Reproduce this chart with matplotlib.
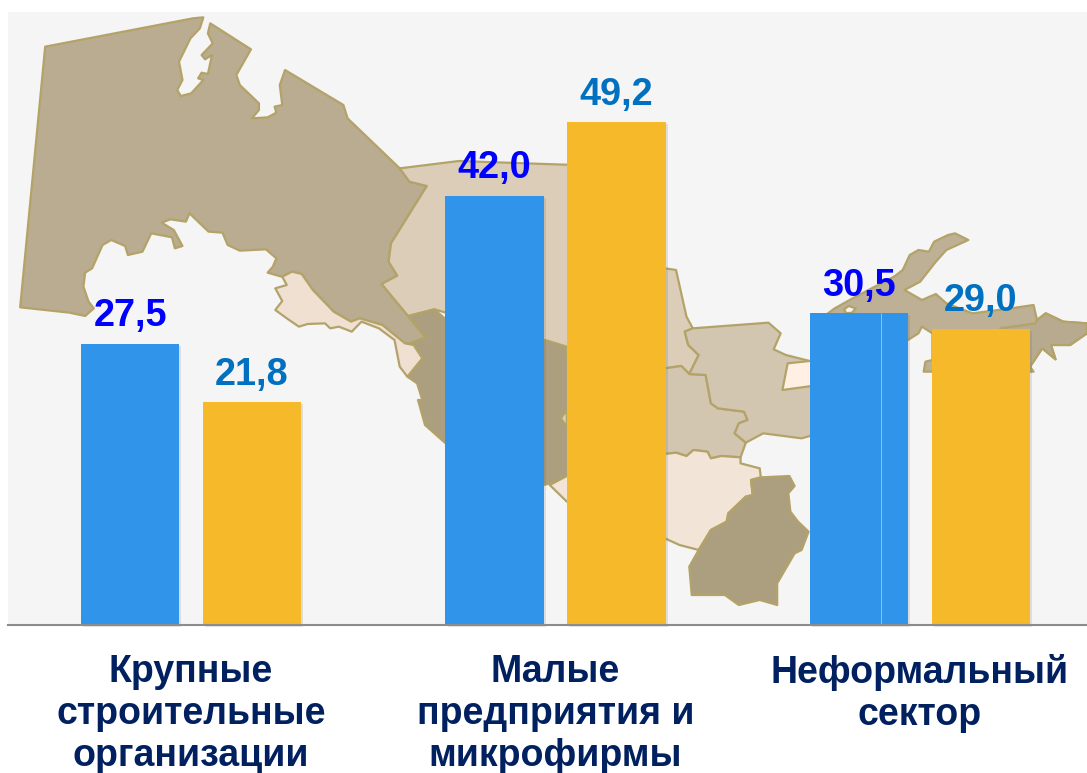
import numpy as np
import matplotlib
matplotlib.use('Agg')
import matplotlib.pyplot as plt
from matplotlib.patches import Polygon
import matplotlib.patheffects as pe

categories = ['Крупные\nстроительные\nорганизации', 'Малые\nпредприятия и\nмикрофирмы', 'Неформальный\nсектор']
series_blue = [27.5, 42.0, 30.5]
series_orange = [21.8, 49.2, 29.0]
labels_blue = ['27,5', '42,0', '30,5']
labels_orange = ['21,8', '49,2', '29,0']

plt.rcParams['font.family'] = ['Liberation Sans', 'DejaVu Sans']


# map outlines were traced on two zoomed crops, these turn them back into pixels
def z1(pts):
    return [(x / 2.877, y / 3) for x, y in pts]


def z2(pts):
    return [(540 + x / 2.867, 220 + y / 3) for x, y in pts]


karakalpak = z1([(130, 140), (555, 55), (585, 52), (575, 85), (548, 115), (515, 185), (525, 240), (510, 270),
                 (520, 288), (550, 280), (585, 240), (570, 235), (580, 218), (598, 222), (610, 165), (590, 178),
                 (580, 165), (612, 130), (598, 100), (605, 70), (722, 148), (680, 225), (690, 255), (745, 310),
                 (745, 330), (725, 355), (770, 352), (795, 338), (790, 320), (812, 315), (805, 255), (820, 210),
                 (988, 315), (1000, 355), (1150, 505), (1178, 545), (1228, 558), (1125, 730), (1118, 785),
                 (1143, 827), (1098, 852), (1225, 1012), (1180, 1030), (1165, 1030), (1100, 975), (1035, 955),
                 (1010, 965), (960, 935), (900, 870), (868, 822), (840, 815), (810, 830), (770, 818), (785, 800),
                 (795, 775), (765, 748), (690, 752), (655, 735), (640, 698), (600, 695), (545, 640), (535, 665),
                 (490, 658), (465, 668), (500, 690), (525, 738), (503, 745), (495, 712), (435, 700), (410, 755),
                 (368, 765), (360, 738), (320, 720), (295, 735), (265, 805), (245, 818), (240, 860), (255, 905),
                 (270, 925), (245, 948), (200, 938), (58, 922)])
khorezm = z1([(812, 830), (840, 815), (868, 822), (900, 870), (960, 935), (1010, 965), (1035, 955), (1100, 975),
              (1165, 1030), (1190, 1035), (1215, 1075), (1172, 1130), (1150, 1100), (1135, 1020), (1090, 985),
              (1040, 965), (1012, 995), (975, 980), (950, 985), (935, 970), (885, 972), (860, 980), (825, 955),
              (792, 930), (812, 903), (792, 865), (825, 855)])
navoi = z1([(1150, 505), (1320, 483), (1568, 492), (1800, 500)]) + z2([(300, 100), (358, 145), (390, 150), (420, 290),
            (438, 325), (415, 335), (425, 375), (455, 405), (428, 462), (405, 438), (358, 445), (60, 380)]) + \
    z1([(1250, 928), (1175, 948), (1225, 1012), (1098, 852), (1143, 827), (1118, 785), (1125, 730), (1228, 558),
        (1178, 545)])
bukhara = z1([(1175, 948), (1250, 928), (1290, 965), (1568, 1020)]) + \
    z2([(77, 380), (100, 768), (30, 790), (10, 795)]) + [(470, 465), (425, 425), (418, 400)] + \
    z1([(1215, 1200), (1200, 1150), (1172, 1130), (1215, 1075), (1190, 1035), (1180, 1030), (1225, 1012)])
notch = z2([(77, 570), (60, 595), (77, 620)])
samarkand = z2([(300, 445), (358, 445), (405, 438), (428, 462), (475, 465), (490, 550), (510, 565), (585, 575),
                (595, 600), (570, 610), (558, 640), (590, 668), (575, 712), (520, 708), (490, 715), (480, 695),
                (440, 690), (420, 708), (390, 698), (358, 702), (300, 700)])
jizzakh = z2([(438, 325), (655, 308), (690, 340), (670, 388), (705, 405), (800, 430), (800, 640),
              (750, 655), (640, 640), (590, 668), (558, 640), (570, 610), (595, 600), (585, 575), (510, 565),
              (490, 550), (475, 465), (428, 462), (455, 405), (425, 375), (415, 335)])
tashkent = z2([(710, 430), (800, 420), (800, 495), (695, 510)])
kashka = z2([(28, 795), (77, 768), (358, 702), (390, 698), (420, 708), (440, 690), (480, 695), (490, 715), (520, 708),
             (575, 712), (575, 730), (630, 745), (633, 772), (605, 780), (610, 825), (590, 830), (540, 880),
             (535, 905), (490, 930), (455, 990), (400, 975), (358, 955), (77, 845)])
surkhan = z2([(605, 780), (635, 772), (715, 768), (730, 798), (712, 820), (718, 875), (740, 905), (770, 935),
              (750, 990), (730, 1000), (680, 1090), (680, 1155), (630, 1140), (570, 1155), (530, 1125), (435, 1125),
              (428, 1040), (455, 990), (490, 930), (535, 905), (540, 880), (590, 830), (610, 825)])
fergana = z2([(845, 265), (905, 230), (1015, 170), (1040, 150), (1060, 105), (1085, 90), (1115, 95), (1130, 65),
              (1170, 45), (1190, 40), (1228, 60), (1165, 90), (1135, 125), (1090, 185), (1045, 210), (1095, 240),
              (1135, 222), (1165, 250), (1240, 280), (1350, 265), (1415, 255), (1425, 300), (1450, 280), (1500, 305),
              (1568, 310), (1568, 340), (1520, 375), (1465, 375), (1478, 418), (1440, 385), (1405, 440), (1415, 455),
              (1100, 455), (1105, 425), (1125, 420), (1125, 340), (1095, 320), (1085, 340), (1055, 360), (800, 370),
              (800, 300)])
namangan = z2([(1320, 325), (1420, 310), (1425, 300), (1450, 280), (1500, 305), (1568, 310), (1568, 340), (1520, 375),
               (1465, 375), (1478, 418), (1440, 385), (1405, 440), (1320, 440)])
hole = z2([(872, 268), (885, 258), (905, 265), (895, 278), (878, 280)])

map_shapes = [(karakalpak, '#b9ac90'), (navoi, '#dccdb8'), (bukhara, '#ab9f7f'), (notch, '#dccdb8'),
              (khorezm, '#efe0d2'), (samarkand, '#d3c6b0'), (jizzakh, '#d3c6b0'), (tashkent, '#fff0e3'),
              (kashka, '#f2e4d6'), (surkhan, '#ab9f7f'), (fergana, '#bdb095'), (namangan, '#b8aa8e'),
              (hole, '#f5f5f5')]

W, H = 1087, 773
fig = plt.figure(figsize=(W / 100, H / 100), dpi=100, facecolor='white')

# background panel with the map, in pixel coordinates
bg = fig.add_axes([0, 0, 1, 1])
bg.set_xlim(0, W)
bg.set_ylim(H, 0)
bg.axis('off')
bg.add_patch(plt.Rectangle((8, 12), W - 8, 613, color='#f5f5f5', lw=0))
for pts, col in map_shapes:
    bg.add_patch(Polygon(pts, closed=True, facecolor=col, edgecolor='#b3a369', lw=1.6, joinstyle='round'))

# the bars sit on top in their own axes
ax = fig.add_axes([8 / W, (H - 625) / H, (W - 8) / W, 613 / H])
ax.patch.set_alpha(0)
ax.set_xlim(-0.502, 2.458)
ax.set_ylim(0, 60)

x = np.arange(len(categories))
off = 0.167
width = 0.27
shadow = [pe.SimplePatchShadow(offset=(1.5, -1.5), shadow_rgbFace='#555555', alpha=0.15), pe.Normal()]
bars1 = ax.bar(x - off, series_blue, width, color='#3094eb', zorder=3, path_effects=shadow, clip_on=False)
bars2 = ax.bar(x + off, series_orange, width, color='#f6b92a', zorder=3, path_effects=shadow, clip_on=False)
ax.vlines(x[2] - off + 0.06, 0, series_blue[2], color='#8cc4f3', lw=0.7, zorder=4)

for i in range(len(categories)):
    ax.text(x[i] - off, series_blue[i] + 1.72, labels_blue[i], ha='center', va='baseline',
            fontsize=27.3, fontweight='bold', color='#0000ff', zorder=5)
    ax.text(x[i] + off, series_orange[i] + 1.72, labels_orange[i], ha='center', va='baseline',
            fontsize=27.3, fontweight='bold', color='#0070c0', zorder=5)

for s in ['top', 'left', 'right']:
    ax.spines[s].set_visible(False)
ax.spines['bottom'].set_color('#8c8c8c')
ax.spines['bottom'].set_linewidth(1.5)
ax.spines['bottom'].set_zorder(6)
ax.set_yticks([])
ax.set_xticks(x)
ax.set_xticklabels(categories, fontsize=27, fontweight='bold', color='#002060', linespacing=1.21, va='top')
ax.tick_params(axis='x', length=0, pad=21)

fig.savefig('out.png', dpi=100)
